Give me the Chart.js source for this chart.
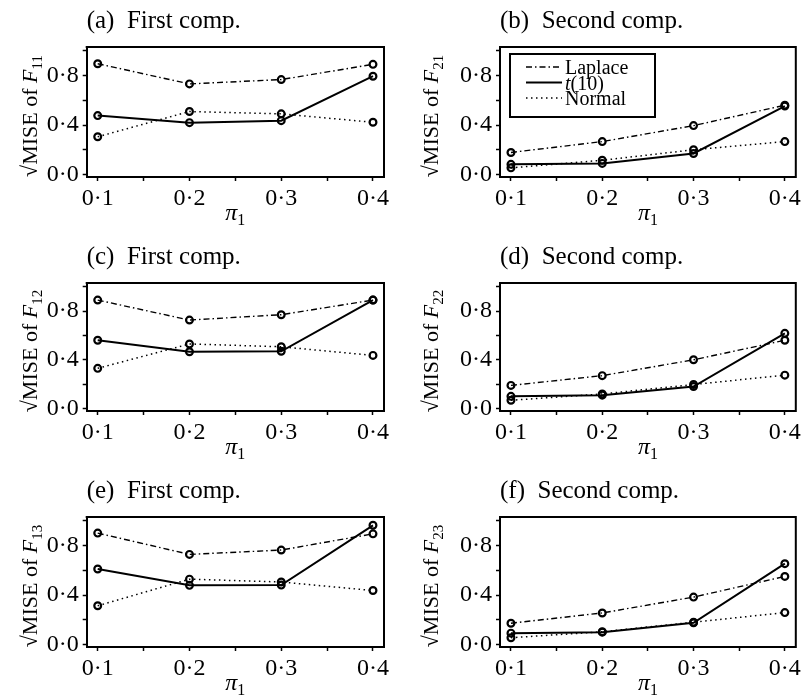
<!DOCTYPE html>
<html>
<head>
<meta charset="utf-8">
<script src="https://cdn.jsdelivr.net/npm/chart.js@4.4.0/dist/chart.umd.min.js"></script>
<style>
  html, body { margin: 0; padding: 0; background: #fff; }
  #fig { position: relative; width: 802px; height: 696px; overflow: hidden; }
  #fig canvas { position: absolute; }
</style>
</head>
<body>
<div id="fig"></div>
<script>
// x values (pi_1) and axis ticks
const PI_1 = [0.1, 0.2, 0.3, 0.4];
const X_TICKS = [0.1, 0.15, 0.2, 0.25, 0.3, 0.35, 0.4];
const X_TICK_LABELS = ["0·1", "", "0·2", "", "0·3", "", "0·4"];
const Y_TICKS = [0, 0.2, 0.4, 0.6, 0.8, 1.0];
const Y_TICK_LABELS = ["0·0", "", "0·4", "", "0·8", ""];

const SERIES_NAMES = ["Laplace", "t(10)", "Normal"];

// sqrt MISE
const LAPLACE_F11 = [0.895, 0.732, 0.767, 0.89];
const T10_F11     = [0.476, 0.419, 0.435, 0.794];
const NORMAL_F11  = [0.305, 0.509, 0.49, 0.422];

const LAPLACE_F21 = [0.178, 0.266, 0.395, 0.56];
const T10_F21     = [0.082, 0.09, 0.17, 0.553];
const NORMAL_F21  = [0.054, 0.115, 0.2, 0.266];

const LAPLACE_F12 = [0.89, 0.726, 0.77, 0.89];
const T10_F12     = [0.56, 0.466, 0.47, 0.89];
const NORMAL_F12  = [0.33, 0.53, 0.507, 0.436];

const LAPLACE_F22 = [0.19, 0.27, 0.40, 0.56];
const T10_F22     = [0.10, 0.11, 0.18, 0.617];
const NORMAL_F22  = [0.068, 0.12, 0.197, 0.274];

const LAPLACE_F13 = [0.90, 0.728, 0.763, 0.894];
const T10_F13     = [0.61, 0.478, 0.48, 0.963];
const NORMAL_F13  = [0.313, 0.528, 0.505, 0.436];

const LAPLACE_F23 = [0.172, 0.255, 0.383, 0.55];
const T10_F23     = [0.092, 0.10, 0.175, 0.653];
const NORMAL_F23  = [0.055, 0.103, 0.18, 0.258];

const PANELS = [
  { tag: "(a)", comp: "First comp.",  sub: "11", series: [LAPLACE_F11, T10_F11, NORMAL_F11], legend: false },
  { tag: "(b)", comp: "Second comp.", sub: "21", series: [LAPLACE_F21, T10_F21, NORMAL_F21], legend: true },
  { tag: "(c)", comp: "First comp.",  sub: "12", series: [LAPLACE_F12, T10_F12, NORMAL_F12], legend: false },
  { tag: "(d)", comp: "Second comp.", sub: "22", series: [LAPLACE_F22, T10_F22, NORMAL_F22], legend: false },
  { tag: "(e)", comp: "First comp.",  sub: "13", series: [LAPLACE_F13, T10_F13, NORMAL_F13], legend: false },
  { tag: "(f)", comp: "Second comp.", sub: "23", series: [LAPLACE_F23, T10_F23, NORMAL_F23], legend: false },
];

// layout: canvas slots and chart-area edges inside each canvas
const CANVAS_W = 401, CANVAS_H = 232;
const COL_X = [0, 401];
const ROW_Y = [0, 232, 464];
const AREA_X = [{ left: 86.7, right: 384 }, { left: 99, right: 396 }];
const AREA_Y = [{ top: 47, bottom: 177 }, { top: 51, bottom: 179 }, { top: 53, bottom: 183 }];

const SERIF = "'Liberation Serif', 'Times New Roman', serif";
const LINE_STYLES = [
  { borderDash: [6, 3, 1.5, 3], borderWidth: 1.4 },
  { borderDash: [], borderWidth: 2 },
  { borderDash: [1.5, 3.5], borderWidth: 1.5 },
];

Chart.defaults.font.family = SERIF;
Chart.defaults.color = "#000";

// draw a run of text pieces with different fonts / baseline shifts
function drawRich(ctx, segs, x, y, align) {
  let total = 0;
  segs.forEach(s => { ctx.font = s.f; s.w = ctx.measureText(s.t).width; total += s.w; });
  let cx = align === "center" ? x - total / 2 : x;
  segs.forEach(s => {
    ctx.font = s.f;
    ctx.fillText(s.t, cx, y + (s.dy || 0));
    cx += s.w;
  });
}

function labelSegs(label, size) {
  if (label.startsWith("t(")) {
    return [{ t: "t", f: `italic ${size}px ${SERIF}` }, { t: label.slice(1), f: `${size}px ${SERIF}` }];
  }
  return [{ t: label, f: `${size}px ${SERIF}` }];
}

const figureText = {
  id: "figureText",
  afterDraw(chart, args, opts) {
    const { ctx, chartArea: a } = chart;
    ctx.save();
    ctx.fillStyle = "#000";
    ctx.strokeStyle = "#000";
    ctx.textAlign = "left";
    ctx.textBaseline = "alphabetic";

    // top and right sides of the frame
    ctx.lineWidth = 2;
    ctx.beginPath();
    ctx.moveTo(a.left - 1, a.top);
    ctx.lineTo(a.right, a.top);
    ctx.lineTo(a.right, a.bottom + 1);
    ctx.stroke();

    // panel title
    drawRich(ctx, [{ t: opts.tag + "  " + opts.comp, f: `25px ${SERIF}` }], a.left, a.top - 19);

    // x title: pi_1
    drawRich(ctx, [
      { t: "π", f: `italic 24px ${SERIF}` },
      { t: "1", f: `16px ${SERIF}`, dy: 5 },
    ], (a.left + a.right) / 2, a.bottom + 43, "center");

    // y title: sqrt MISE of F_ij
    ctx.save();
    ctx.translate(37, (a.top + a.bottom) / 2 + 4);
    ctx.rotate(-Math.PI / 2);
    drawRich(ctx, [
      { t: "√", f: `22px ${SERIF}` },
      { t: "MISE of ", f: `22px ${SERIF}` },
      { t: "F", f: `italic 22px ${SERIF}` },
      { t: opts.sub, f: `15px ${SERIF}`, dy: 5 },
    ], 0, 0, "center");
    ctx.restore();

    // legend box
    if (opts.legend) {
      const bx = a.left + 10, by = a.top + 7, bw = 145, bh = 63;
      ctx.lineWidth = 2;
      ctx.strokeRect(bx, by, bw, bh);
      chart.data.datasets.forEach((ds, i) => {
        const y = by + 13 + i * 15.5;
        ctx.save();
        ctx.lineWidth = ds.borderWidth;
        ctx.setLineDash(ds.borderDash);
        ctx.beginPath();
        ctx.moveTo(bx + 16, y);
        ctx.lineTo(bx + 52, y);
        ctx.stroke();
        ctx.restore();
        drawRich(ctx, labelSegs(ds.label, 20), bx + 55, y + 7);
      });
    }
    ctx.restore();
  }
};

const fig = document.getElementById("fig");

PANELS.forEach((p, k) => {
  const col = k % 2, row = Math.floor(k / 2);
  const canvas = document.createElement("canvas");
  canvas.width = CANVAS_W;
  canvas.height = CANVAS_H;
  canvas.style.left = COL_X[col] + "px";
  canvas.style.top = ROW_Y[row] + "px";
  fig.appendChild(canvas);

  const ax = AREA_X[col], ay = AREA_Y[row];

  new Chart(canvas.getContext("2d"), {
    type: "line",
    data: {
      labels: PI_1,
      datasets: p.series.map((vals, i) => ({
        label: SERIES_NAMES[i],
        data: vals,
        borderColor: "#000",
        borderWidth: LINE_STYLES[i].borderWidth,
        borderDash: LINE_STYLES[i].borderDash,
        pointRadius: 3.4,
        pointBorderWidth: 2.2,
        pointBorderColor: "#000",
        pointBackgroundColor: "rgba(0,0,0,0)",
        fill: false,
        tension: 0,
        clip: false,
      })),
    },
    options: {
      responsive: false,
      animation: false,
      devicePixelRatio: 1,
      layout: { padding: { left: 0, top: ay.top, right: CANVAS_W - ax.right, bottom: 0 } },
      plugins: {
        legend: { display: false },
        tooltip: { enabled: false },
        figureText: { tag: p.tag, comp: p.comp, sub: p.sub, legend: p.legend },
      },
      scales: {
        x: {
          type: "linear",
          min: 0.088,
          max: 0.412,
          afterBuildTicks: (axis) => { axis.ticks = X_TICKS.map(v => ({ value: v })); },
          afterFit: (axis) => { axis.height = CANVAS_H - ay.bottom; axis.paddingLeft = 0; axis.paddingRight = 0; },
          ticks: {
            autoSkip: false,
            maxRotation: 0,
            padding: 3,
            font: { size: 24 },
            color: "#000",
            callback: (v, i) => X_TICK_LABELS[i],
          },
          grid: { display: true, drawOnChartArea: false, drawTicks: true, tickLength: 4, tickWidth: 1.5, tickColor: "#000" },
          border: { display: true, color: "#000", width: 2 },
        },
        y: {
          min: -0.02,
          max: 1.03,
          afterBuildTicks: (axis) => { axis.ticks = Y_TICKS.map(v => ({ value: v })); },
          afterFit: (axis) => { axis.width = ax.left; axis.paddingTop = 0; axis.paddingBottom = 0; },
          ticks: {
            autoSkip: false,
            padding: 4,
            font: { size: 24 },
            color: "#000",
            callback: (v, i) => Y_TICK_LABELS[i],
          },
          grid: { display: true, drawOnChartArea: false, drawTicks: true, tickLength: 4, tickWidth: 1.5, tickColor: "#000" },
          border: { display: true, color: "#000", width: 2 },
        },
      },
    },
    plugins: [figureText],
  });
});
</script>
</body>
</html>
